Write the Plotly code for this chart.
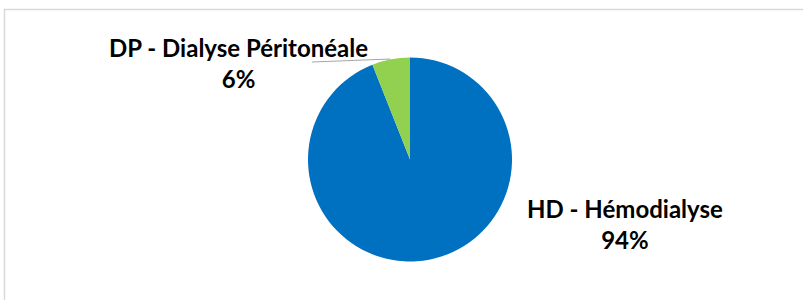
import plotly.graph_objects as go

labels = ["HD - Hémodialyse", "DP - Dialyse Péritonéale"]
values = [94, 6]
colors = ["#0070C0", "#92D050"]
pct_text = ["94%", "6%"]

W, H = 803, 300

def px(x):
    return x / W

def py(y):
    return 1 - y / H

fig = go.Figure(go.Pie(
    labels=labels, values=values, sort=False, direction="clockwise", rotation=0,
    marker=dict(colors=colors, line=dict(color="white", width=0)),
    textinfo="none", hoverinfo="label+percent", showlegend=False,
    domain=dict(x=[px(308), px(512)], y=[py(262), py(57)]),
))

font = dict(family="Lato, Open Sans, sans-serif", size=24, color="#000000")
pos = {labels[0]: (625, 224), labels[1]: (238, 63)}
for lab, pct in zip(labels, pct_text):
    x, y = pos[lab]
    fig.add_annotation(x=px(x), y=py(y), xref="paper", yref="paper",
                       text=f"<b>{lab}</b><br><b>{pct}</b>", showarrow=False,
                       font=font, align="center", xanchor="center", yanchor="middle")

fig.add_shape(type="line", xref="paper", yref="paper",
              x0=px(312), y0=py(62), x1=px(390), y1=py(59),
              line=dict(color="#A6A6A6", width=1.2))
fig.add_shape(type="rect", xref="paper", yref="paper",
              x0=px(4.5), y0=-0.2, x1=1.2, y1=py(9.5),
              line=dict(color="#D9D9D9", width=1.5))

fig.update_layout(width=W, height=H, margin=dict(l=0, r=0, t=0, b=0),
                  paper_bgcolor="white", plot_bgcolor="white")
fig.write_html("out.html", config={"displayModeBar": False},
               post_script="document.body.style.margin='0';document.body.style.overflow='hidden';")
